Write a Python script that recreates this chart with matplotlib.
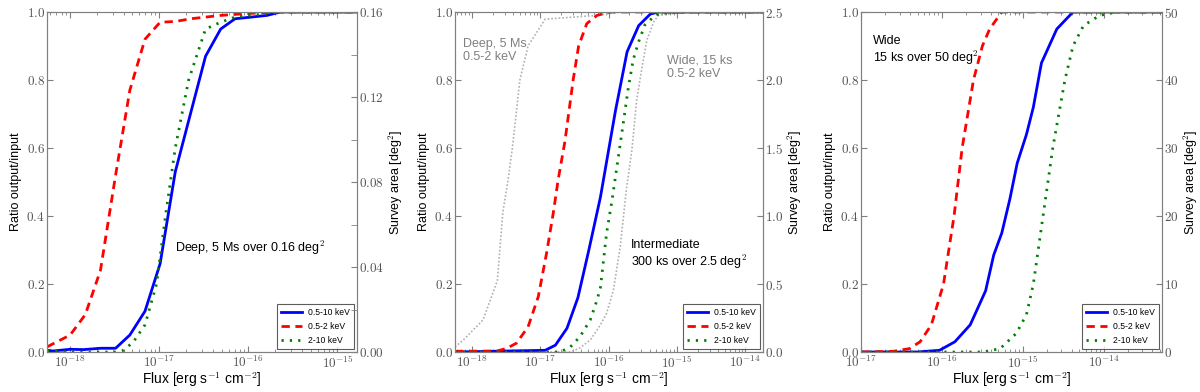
import numpy as np
import matplotlib
matplotlib.use("Agg")
import matplotlib.pyplot as plt
from matplotlib.ticker import FixedLocator, FuncFormatter, LogLocator, MultipleLocator

plt.rcParams['font.family'] = ['Liberation Sans', 'DejaVu Sans']
plt.rcParams['mathtext.fontset'] = 'cm'

# ---- Deep: 5 Ms over 0.16 deg2 (log10 flux, ratio output/input) ----
deep_x_full = [-18.26, -18.19, -18.0, -17.85, -17.66, -17.49, -17.33, -17.16, -16.99,
               -16.82, -16.65, -16.48, -16.31, -16.15, -15.79, -15.64, -14.78]
deep_full = [0.005, 0.003, 0.008, 0.007, 0.011, 0.011, 0.05, 0.12, 0.26,
             0.53, 0.70, 0.87, 0.95, 0.98, 0.99, 1.0, 1.0]
deep_x_soft = [-18.26, -18.0, -17.83, -17.66, -17.49, -17.33, -17.16, -16.99, -16.82,
               -16.65, -16.48, -16.31, -16.15, -15.98, -15.64, -14.78]
deep_soft = [0.015, 0.05, 0.11, 0.24, 0.52, 0.77, 0.92, 0.97, 0.972,
             0.98, 0.985, 0.99, 0.993, 0.996, 1.0, 1.0]
deep_x_hard = [-18.26, -18.0, -17.49, -17.40, -17.29, -17.16, -17.03, -16.93, -16.82,
               -16.67, -16.48, -16.31, -16.15, -15.98, -15.79, -15.64, -14.78]
deep_hard = [0.003, 0.0, 0.0, 0.005, 0.03, 0.08, 0.2, 0.4, 0.6,
             0.8, 0.95, 0.97, 0.985, 0.99, 0.995, 1.0, 1.0]

# ---- Intermediate: 300 ks over 2.5 deg2 ----
int_x_full = [-18.25, -16.93, -16.78, -16.61, -16.45, -16.29, -16.12, -15.90, -15.73,
              -15.56, -15.39, -15.27, -13.74]
int_full = [0.0, 0.005, 0.02, 0.07, 0.16, 0.30, 0.456, 0.71, 0.883,
            0.96, 0.994, 1.0, 1.0]
int_x_soft = [-18.25, -17.63, -17.49, -17.35, -17.18, -17.03, -16.91, -16.81, -16.74,
              -16.64, -16.52, -16.44, -16.32, -16.17, -15.98, -13.74]
int_soft = [0.002, 0.003, 0.011, 0.026, 0.074, 0.163, 0.29, 0.41, 0.506,
            0.62, 0.8, 0.9, 0.966, 0.99, 1.0, 1.0]
int_x_hard = [-18.25, -16.71, -16.56, -16.42, -16.27, -16.17, -16.12, -16.03, -15.95,
              -15.81, -15.71, -15.64, -15.56, -15.47, -15.34, -15.25, -14.95, -13.74]
int_hard = [0.0, 0.0, 0.015, 0.045, 0.094, 0.153, 0.19, 0.35, 0.447,
            0.64, 0.78, 0.86, 0.913, 0.962, 0.986, 0.996, 1.0, 1.0]

# reference curves (0.5-2 keV of deep and wide) shown in grey
ref_x_deep = [-18.25, -18.13, -17.84, -17.63, -17.55, -17.47, -17.41, -17.30, -17.18,
              -16.93, -16.17, -15.83, -13.74]
ref_deep = [0.015, 0.035, 0.094, 0.21, 0.41, 0.51, 0.6, 0.8, 0.9,
            0.979, 0.99, 1.0, 1.0]
ref_x_wide = [-18.25, -16.56, -16.42, -16.27, -16.12, -16.03, -15.93, -15.83, -15.74,
              -15.66, -15.59, -15.51, -15.44, -15.34, -15.27, -14.81, -13.74]
ref_wide = [0.0, 0.0, 0.012, 0.035, 0.08, 0.114, 0.182, 0.31, 0.48,
            0.594, 0.741, 0.839, 0.918, 0.971, 0.991, 1.0, 1.0]

# ---- Wide: 15 ks over 50 deg2 ----
wide_x_full = [-17.0, -16.30, -16.03, -15.84, -15.65, -15.46, -15.36, -15.26, -15.16,
               -15.07, -14.955, -14.87, -14.77, -14.58, -14.38, -13.28]
wide_full = [0.0, 0.0, 0.005, 0.03, 0.08, 0.18, 0.285, 0.35, 0.45,
             0.555, 0.64, 0.72, 0.85, 0.95, 1.0, 1.0]
wide_x_soft = [-17.0, -16.60, -16.40, -16.27, -16.13, -15.98, -15.85, -15.75, -15.61,
               -15.50, -15.41, -15.26, -13.28]
wide_soft = [0.0, 0.002, 0.01, 0.03, 0.08, 0.2, 0.4, 0.6, 0.8,
             0.9, 0.95, 1.0, 1.0]
wide_x_hard = [-17.0, -15.49, -15.28, -15.08, -14.955, -14.87, -14.75, -14.63, -14.48,
               -14.38, -14.25, -14.05, -13.84, -13.28]
wide_hard = [0.0, 0.0, 0.01, 0.055, 0.11, 0.2, 0.4, 0.6, 0.8,
             0.9, 0.96, 0.99, 1.0, 1.0]

band_labels = ['0.5-10 keV', '0.5-2 keV', '2-10 keV']

W, H = 1200, 392
fig = plt.figure(figsize=(12, 3.92), dpi=100)

spine_c = '#808080'
tick_c = '#555555'


def make_panel(left_px, right_px, xlim, area_max, area_major, area_minor, area_fmt, decades):
    ax = fig.add_axes([left_px / W, 1 - 352 / H, (right_px - left_px) / W, 340 / H])
    ax.set_xscale('log')
    ax.set_xlim(10.0 ** xlim[0], 10.0 ** xlim[1])
    ax.set_ylim(0, 1)
    ax.xaxis.set_major_locator(FixedLocator([10.0 ** d for d in decades]))
    ax.xaxis.set_major_formatter(FuncFormatter(lambda v, p: r'$10^{%d}$' % round(np.log10(v))))
    ax.xaxis.set_minor_locator(LogLocator(base=10, subs=np.arange(2, 10)))
    ax.xaxis.set_minor_formatter(FuncFormatter(lambda v, p: ''))
    ax.yaxis.set_major_locator(MultipleLocator(0.2))
    ax.yaxis.set_major_formatter(FuncFormatter(lambda v, p: r'$%.1f$' % v))
    ax.tick_params(axis='x', which='both', direction='in', top=True, colors=spine_c,
                   labelcolor=tick_c, labelsize=9.5, pad=2)
    ax.tick_params(axis='x', which='major', length=4)
    ax.tick_params(axis='x', which='minor', length=2)
    ax.tick_params(axis='y', direction='in', length=4, colors=spine_c, labelcolor=tick_c,
                   labelsize=9.5, pad=1.5)
    for s in ax.spines.values():
        s.set_color(spine_c)
    ax.set_xlabel(r'Flux [erg s$^{-1}$ cm$^{-2}$]', fontsize=10, labelpad=0)
    ax.set_ylabel('Ratio output/input', fontsize=9, labelpad=3)

    ax2 = ax.twinx()
    ax2.set_ylim(0, area_max)
    ax2.yaxis.set_major_locator(MultipleLocator(area_major))
    if area_minor:
        ax2.yaxis.set_minor_locator(MultipleLocator(area_minor))
    ax2.yaxis.set_major_formatter(FuncFormatter(lambda v, p: '$' + area_fmt % v + '$'))
    ax2.tick_params(axis='y', which='both', direction='in', colors=spine_c, labelcolor=tick_c,
                    labelsize=9.5, pad=1.5)
    ax2.tick_params(axis='y', which='major', length=4)
    ax2.tick_params(axis='y', which='minor', length=4)
    for s in ax2.spines.values():
        s.set_color(spine_c)
    ax2.set_ylabel(r'Survey area [deg$^2$]', fontsize=9, labelpad=2)
    return ax


def draw_bands(ax, xf, yf, xs, ys, xh, yh):
    ax.plot(np.power(10.0, xf), yf, color='#0000ff', lw=2, label=band_labels[0])
    ax.plot(np.power(10.0, xs), ys, color='#ff0000', lw=2, ls=(0, (3, 2)), label=band_labels[1])
    ax.plot(np.power(10.0, xh), yh, color='#008000', lw=2, ls=(0, (0.8, 2.2)),
            dash_capstyle='butt', label=band_labels[2])
    leg = ax.legend(loc='lower right', fontsize=6.2, frameon=True, fancybox=False,
                    handlelength=2.4, borderaxespad=0.4, labelspacing=0.55,
                    handletextpad=0.7, borderpad=0.45)
    leg.get_frame().set_edgecolor('#333333')
    leg.get_frame().set_linewidth(0.8)


# Panel 1 - deep
ax1 = make_panel(47, 357, (-18.26, -14.78), 0.16, 0.04, 0.02, '%.2f', [-18, -17, -16, -15])
draw_bands(ax1, deep_x_full, deep_full, deep_x_soft, deep_soft, deep_x_hard, deep_hard)
ax1.text(0.413, 0.305, r'Deep, 5 Ms over 0.16 deg$^2$', transform=ax1.transAxes,
         fontsize=9, va='center', ha='left')

# Panel 2 - intermediate
ax2 = make_panel(455, 763, (-18.25, -13.74), 2.5, 0.5, None, '%.1f', [-18, -17, -16, -15, -14])
ax2.plot(np.power(10.0, ref_x_deep), ref_deep, color='#b0b0b0', lw=1.2, ls=(0, (1, 1.2)))
ax2.plot(np.power(10.0, ref_x_wide), ref_wide, color='#b0b0b0', lw=1.2, ls=(0, (1, 1.2)))
draw_bands(ax2, int_x_full, int_full, int_x_soft, int_soft, int_x_hard, int_hard)
ax2.text(0.026, 0.886, 'Deep, 5 Ms\n0.5-2 keV', transform=ax2.transAxes, fontsize=9,
         va='center', ha='left', color='#808080', linespacing=1.1)
ax2.text(0.689, 0.837, 'Wide, 15 ks\n0.5-2 keV', transform=ax2.transAxes, fontsize=9,
         va='center', ha='left', color='#808080', linespacing=1.1)
ax2.text(0.57, 0.285, 'Intermediate\n' + r'300 ks over 2.5 deg$^2$', transform=ax2.transAxes,
         fontsize=9, va='center', ha='left', linespacing=1.1)

# Panel 3 - wide
ax3 = make_panel(861, 1162, (-17.0, -13.28), 50, 10, None, '%d', [-17, -16, -15, -14])
draw_bands(ax3, wide_x_full, wide_full, wide_x_soft, wide_soft, wide_x_hard, wide_hard)
ax3.text(0.04, 0.885, 'Wide\n' + r'15 ks over 50 deg$^2$', transform=ax3.transAxes,
         fontsize=9, va='center', ha='left', linespacing=1.1)

fig.savefig('out.png', dpi=100)
